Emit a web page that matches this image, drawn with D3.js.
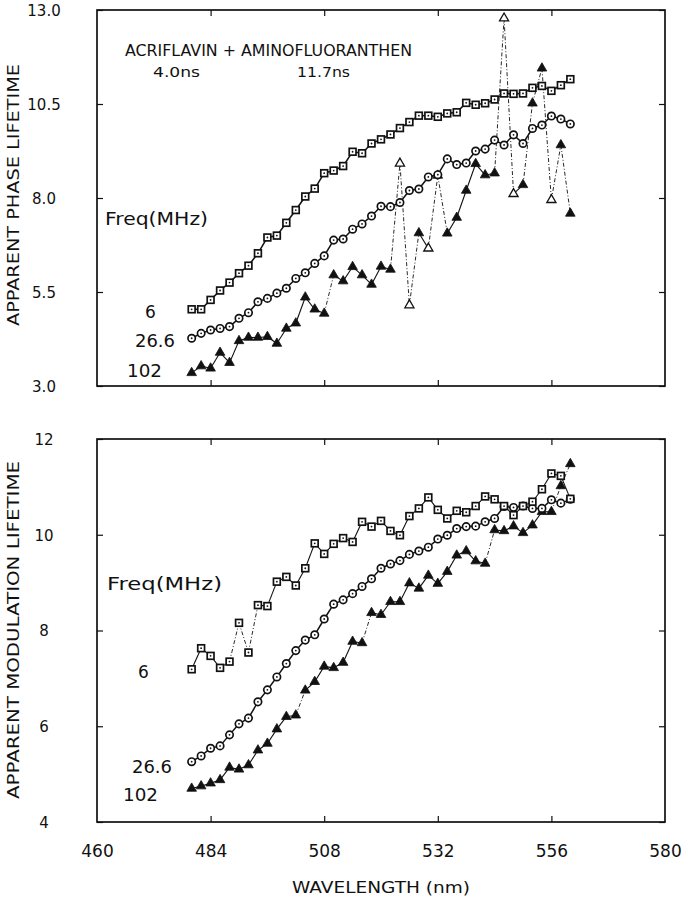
<!DOCTYPE html>
<html><head><meta charset="utf-8">
<script src="https://cdn.jsdelivr.net/npm/d3@7/dist/d3.min.js"></script>
<style>body{margin:0;background:#fff}svg{display:block}text{font-family:"DejaVu Sans",sans-serif;fill:#111}</style>
</head><body><svg id="c" width="688" height="900"></svg>
<script>
// ---------- data ----------
const wavelengths = [480,482,484,486,488,490,492,494,496,498,500,502,504,506,508,510,512,514,516,518,520,522,524,526,528,530,532,534,536,538,540,542,544,546,548,550,552,554,556,558,560];
const phase6   = [5.04,5.04,5.29,5.54,5.75,6.0,6.2,6.53,6.95,7.0,7.34,7.68,8.04,8.25,8.66,8.73,8.85,9.23,9.19,9.45,9.56,9.69,9.86,10.02,10.19,10.19,10.16,10.25,10.28,10.53,10.48,10.52,10.62,10.78,10.77,10.78,10.93,10.98,10.85,11.0,11.16];
const phase26  = [4.27,4.4,4.49,4.53,4.58,4.8,4.95,5.24,5.33,5.47,5.6,5.86,6.01,6.26,6.46,6.88,6.91,7.17,7.31,7.52,7.78,7.77,7.88,8.2,8.24,8.56,8.62,9.04,8.89,8.93,9.25,9.3,9.54,9.41,9.68,9.45,9.85,9.94,10.18,10.1,9.97];
const phase102 = [3.35,3.53,3.47,3.89,3.62,4.2,4.29,4.29,4.31,4.13,4.53,4.67,5.36,5.04,4.93,5.95,5.79,6.17,5.95,5.7,6.18,6.1,8.92,5.15,7.07,6.66,8.6,7.06,7.48,8.2,8.91,8.61,8.66,12.78,8.11,8.35,10.52,11.45,7.95,9.41,7.59];
const phase102Open = [22,23,25,33,34,38];
const mod6   = [7.19,7.63,7.47,7.22,7.35,8.16,7.54,8.53,8.51,9.02,9.12,8.94,9.3,9.82,9.6,9.81,9.93,9.85,10.27,10.17,10.29,10.08,9.99,10.39,10.55,10.78,10.52,10.34,10.5,10.47,10.6,10.8,10.74,10.6,10.41,10.6,10.69,10.95,11.28,11.23,10.75];
const mod26  = [5.26,5.38,5.54,5.59,5.82,6.05,6.17,6.51,6.76,7.03,7.31,7.58,7.8,7.91,8.24,8.55,8.64,8.77,8.92,9.08,9.3,9.39,9.46,9.59,9.66,9.74,9.91,9.99,10.13,10.17,10.18,10.27,10.34,10.59,10.57,10.6,10.55,10.55,10.73,10.66,10.74];
const mod102 = [4.7,4.75,4.81,4.88,5.14,5.1,5.19,5.5,5.64,5.94,6.2,6.23,6.75,6.93,7.25,7.22,7.33,7.77,7.74,8.37,8.33,8.6,8.6,8.99,8.88,9.15,8.98,9.23,9.57,9.66,9.45,9.4,10.1,10.08,10.18,10.04,10.2,10.48,10.48,11.02,11.48];
const xTicks = [460,484,508,532,556,580];
const phaseTicks = [3.0,5.5,8.0,10.5,13.0];
const modTicks = [4,6,8,10,12];
const freqLabels = ["6","26.6","102"];

// ---------- layout ----------
const svg = d3.select("#c");
const L = 97, R = 665;
const x = d3.scaleLinear().domain([460,580]).range([L,R]);
const yP = d3.scaleLinear().domain([3,13]).range([386,10]);
const yM = d3.scaleLinear().domain([4,12]).range([822,439]);

function frame(y, ticks, fmt){
  const g = svg.append("g");
  const ax = g.append("g").attr("transform",`translate(${L},0)`)
    .call(d3.axisLeft(y).tickValues(ticks).tickSize(-6).tickFormat(fmt));
  ax.select(".domain").remove();
  ax.selectAll("line").attr("stroke","#111").attr("stroke-width",1.2);
  ax.selectAll("text").attr("x",-53).attr("text-anchor","middle").attr("dy","0.35em")
    .style("font-size","15px").style("font-family","DejaVu Sans");
  const axr = g.append("g").attr("transform",`translate(${R},0)`)
    .call(d3.axisRight(y).tickValues(ticks).tickSize(-6).tickFormat(""));
  axr.select(".domain").remove();
  axr.selectAll("line").attr("stroke","#111").attr("stroke-width",1.2);
  const [y0,y1] = y.range();
  const axb = g.append("g").attr("transform",`translate(0,${y0})`)
    .call(d3.axisBottom(x).tickValues(xTicks.slice(1,-1)).tickSize(-6).tickFormat(""));
  axb.select(".domain").remove();
  axb.selectAll("line").attr("stroke","#111").attr("stroke-width",1.2);
  const axt = g.append("g").attr("transform",`translate(0,${y1})`)
    .call(d3.axisTop(x).tickValues(xTicks.slice(1,-1)).tickSize(-6).tickFormat(""));
  axt.select(".domain").remove();
  axt.selectAll("line").attr("stroke","#111").attr("stroke-width",1.2);
  g.append("rect").attr("x",L).attr("y",y1).attr("width",R-L).attr("height",y0-y1)
    .attr("fill","none").attr("stroke","#111").attr("stroke-width",1.7);
}
frame(yP, phaseTicks, d3.format(".1f"));
frame(yM, modTicks, d3.format("d"));

const xl = svg.append("g").attr("transform",`translate(0,822)`)
  .call(d3.axisBottom(x).tickValues(xTicks).tickSize(0).tickPadding(29));
xl.select(".domain").remove();
xl.selectAll("text").style("font-size","17px").style("font-family","DejaVu Sans").attr("dy","0.35em");

function series(y, vals, marker, opts){
  const g = svg.append("g");
  const pts = vals.map((v,i)=>[x(wavelengths[i]), y(v)]);
  for(let i=1;i<pts.length;i++){
    const dashed = Math.abs(vals[i]-vals[i-1]) > opts.jump;
    g.append("line").attr("x1",pts[i-1][0]).attr("y1",pts[i-1][1])
      .attr("x2",pts[i][0]).attr("y2",pts[i][1])
      .attr("stroke","#111")
      .attr("stroke-width", dashed ? 0.9 : opts.sw)
      .attr("stroke-dasharray", dashed ? "4,2,1,2" : null);
  }
  const open = opts.open || [];
  pts.forEach((p,i)=>{
    if(marker==="square"){
      g.append("rect").attr("x",p[0]-3.4).attr("y",p[1]-3.4).attr("width",6.8).attr("height",6.8)
        .attr("fill","#fff").attr("stroke","#111").attr("stroke-width",1.7);
      g.append("circle").attr("cx",p[0]).attr("cy",p[1]).attr("r",0.9).attr("fill","#111");
    } else if(marker==="circle"){
      g.append("circle").attr("cx",p[0]).attr("cy",p[1]).attr("r",3.7)
        .attr("fill","#fff").attr("stroke","#111").attr("stroke-width",1.7);
      g.append("circle").attr("cx",p[0]).attr("cy",p[1]).attr("r",0.9).attr("fill","#111");
    } else {
      const isOpen = open.includes(i);
      g.append("path").attr("d",d3.symbol(d3.symbolTriangle, isOpen?36:40)())
        .attr("transform",`translate(${p[0]},${p[1]})`)
        .attr("fill", isOpen ? "#fff" : "#111").attr("stroke","#111").attr("stroke-width", isOpen?1.3:0.8);
    }
  });
}
series(yP, phase102, "triangle", {sw:1.1, jump:0.9, open:phase102Open});
series(yP, phase26, "circle", {sw:1.5, jump:9});
series(yP, phase6, "square", {sw:1.5, jump:9});
series(yM, mod102, "triangle", {sw:1.1, jump:0.45});
series(yM, mod26, "circle", {sw:1.5, jump:9});
series(yM, mod6, "square", {sw:1.1, jump:0.55});

// ---------- text ----------
function txt(s, xx, yy, size, opt={}){
  const t = svg.append("text").attr("x",xx).attr("y",yy).text(s).style("font-size",size+"px");
  if(opt.anchor) t.attr("text-anchor",opt.anchor);
  if(opt.len){ t.attr("textLength",opt.len).attr("lengthAdjust","spacingAndGlyphs"); }
  if(opt.rot!==undefined) t.attr("transform",`rotate(${opt.rot},${xx},${yy})`);
  return t;
}
txt("ACRIFLAVIN  +  AMINOFLUORANTHEN", 125, 56, 15, {len:287});
txt("4.0ns", 153, 77, 14, {len:47});
txt("11.7ns", 297, 77, 14, {len:53});
txt("Freq(MHz)", 105, 225, 17, {len:103});
txt("Freq(MHz)", 107, 590, 17, {len:115});
txt(freqLabels[0], 145, 318, 17);
txt(freqLabels[1], 135, 347, 17, {len:40});
txt(freqLabels[2], 127, 377, 17, {len:35});
txt(freqLabels[0], 138, 678, 17);
txt(freqLabels[1], 132, 773, 17, {len:40});
txt(freqLabels[2], 123, 801, 17, {len:35});
txt("APPARENT PHASE LIFETIME", 19, 195, 15, {anchor:"middle", rot:-90, len:262});
txt("APPARENT MODULATION LIFETIME", 19, 630, 15, {anchor:"middle", rot:-90, len:338});
txt("WAVELENGTH (nm)", 381, 893, 16, {anchor:"middle", len:178});
</script></body></html>
